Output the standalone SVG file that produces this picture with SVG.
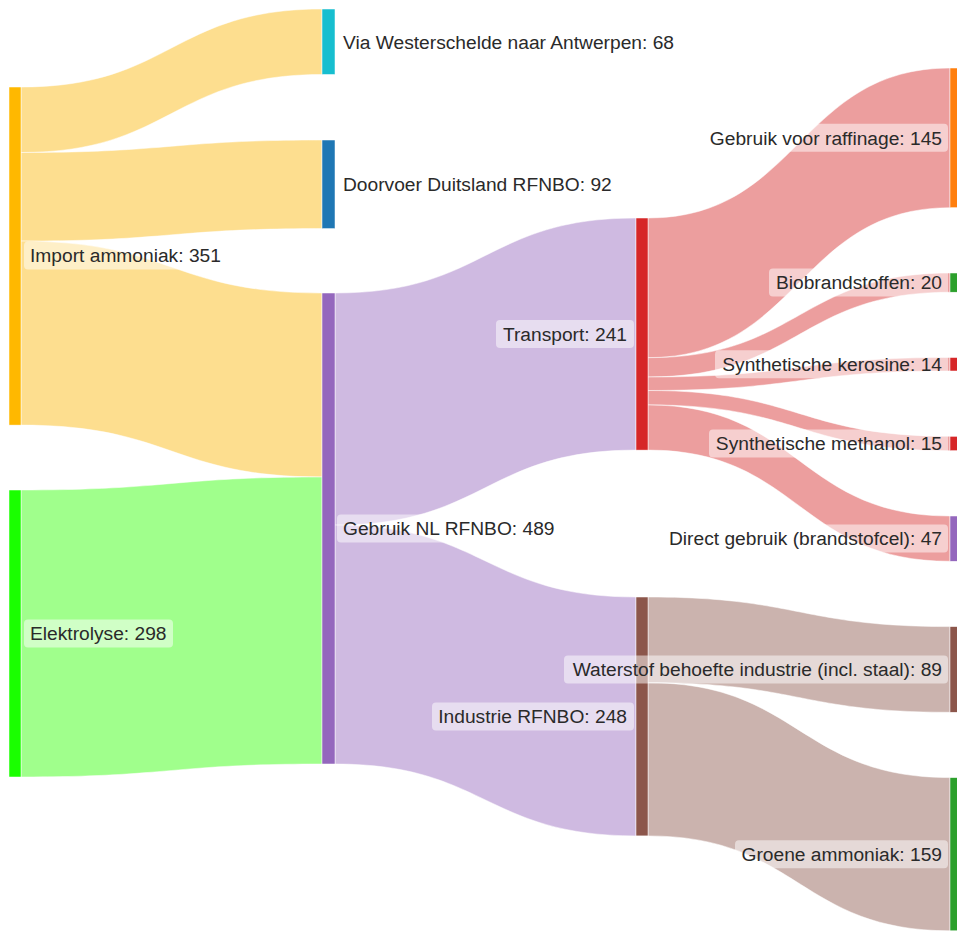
<svg xmlns="http://www.w3.org/2000/svg" width="957" height="931" viewBox="0 0 957 931">
<style>
.lk{stroke:#ffffff;stroke-width:0.5;}
.nd{stroke:#ffffff;stroke-width:0.5;}
.bg{fill:#ffffff;fill-opacity:0.5;}
.lb{font-family:"Liberation Sans",Arial,sans-serif;font-size:19.2px;fill:#2a2a2a;}
.e{text-anchor:end;}
</style>
<rect x="0" y="0" width="957" height="931" fill="#ffffff"/>
<g id="links">
<path class="lk" fill="#FDDE8F" d="M21,87 C171.5,87 171.5,9 322,9 L322,74.5 C171.5,74.5 171.5,152.5 21,152.5 Z"/>
<path class="lk" fill="#FDDE8F" d="M21,152.5 C171.5,152.5 171.5,140 322,140 L322,228.6 C171.5,228.6 171.5,241.1 21,241.1 Z"/>
<path class="lk" fill="#FDDE8F" d="M21,241.1 C171.5,241.1 171.5,293 322,293 L322,477 C171.5,477 171.5,425.1 21,425.1 Z"/>
<path class="lk" fill="#A0FF8C" d="M21,490 C171.5,490 171.5,477 322,477 L322,764 C171.5,764 171.5,777 21,777 Z"/>
<path class="lk" fill="#CFBAE1" d="M335,293 C485.5,293 485.5,218 636,218 L636,450.1 C485.5,450.1 485.5,525.1 335,525.1 Z"/>
<path class="lk" fill="#CFBAE1" d="M335,525.1 C485.5,525.1 485.5,597 636,597 L636,835.9 C485.5,835.9 485.5,764 335,764 Z"/>
<path class="lk" fill="#EC9E9E" d="M648,218 C799,218 799,68 950,68 L950,207.7 C799,207.7 799,357.7 648,357.7 Z"/>
<path class="lk" fill="#EC9E9E" d="M648,357.7 C799,357.7 799,273 950,273 L950,292.2 C799,292.2 799,377 648,377 Z"/>
<path class="lk" fill="#EC9E9E" d="M648,377 C799,377 799,357.5 950,357.5 L950,371 C799,371 799,390.5 648,390.5 Z"/>
<path class="lk" fill="#EC9E9E" d="M648,390.5 C799,390.5 799,436.3 950,436.3 L950,450.7 C799,450.7 799,404.9 648,404.9 Z"/>
<path class="lk" fill="#EC9E9E" d="M648,404.9 C799,404.9 799,516 950,516 L950,561.3 C799,561.3 799,450.1 648,450.1 Z"/>
<path class="lk" fill="#CBB3AE" d="M648,597 C799,597 799,626.6 950,626.6 L950,712.3 C799,712.3 799,682.7 648,682.7 Z"/>
<path class="lk" fill="#CBB3AE" d="M648,682.7 C799,682.7 799,777.6 950,777.6 L950,930.8 C799,930.8 799,835.9 648,835.9 Z"/>
</g>
<g id="node-import">
<rect class="nd" x="9" y="87" width="12" height="338.1" fill="#FFB800"/>
<rect class="bg" x="24" y="241.5" width="204" height="28" rx="4"/>
<text class="lb" x="30" y="255.5" dy="0.35em">Import ammoniak: 351</text>
</g>
<g id="node-elektrolyse">
<rect class="nd" x="9" y="490" width="12" height="287" fill="#1AFF00"/>
<rect class="bg" x="24" y="619.5" width="149" height="28" rx="4"/>
<text class="lb" x="30" y="633.5" dy="0.35em">Elektrolyse: 298</text>
</g>
<g id="node-via">
<rect class="nd" x="322" y="9" width="13" height="65.5" fill="#17BECF"/>
<text class="lb" x="343" y="41.8" dy="0.35em">Via Westerschelde naar Antwerpen: 68</text>
</g>
<g id="node-doorvoer">
<rect class="nd" x="322" y="140" width="13" height="88.6" fill="#1F77B4"/>
<text class="lb" x="343" y="184.3" dy="0.35em">Doorvoer Duitsland RFNBO: 92</text>
</g>
<g id="node-gebruik">
<rect class="nd" x="322" y="293" width="13" height="471" fill="#9467BD"/>
<rect class="bg" x="337" y="514.5" width="225" height="28" rx="4"/>
<text class="lb" x="343" y="528.5" dy="0.35em">Gebruik NL RFNBO: 489</text>
</g>
<g id="node-transport">
<rect class="nd" x="636" y="218" width="12" height="232.1" fill="#D62728"/>
<rect class="bg" x="496" y="320" width="138" height="28" rx="4"/>
<text class="lb e" x="627" y="334" dy="0.35em">Transport: 241</text>
</g>
<g id="node-industrie">
<rect class="nd" x="636" y="597" width="12" height="238.9" fill="#8C564B"/>
<rect class="bg" x="432" y="702.5" width="202" height="28" rx="4"/>
<text class="lb e" x="627" y="716.5" dy="0.35em">Industrie RFNBO: 248</text>
</g>
<g id="node-raffinage">
<rect class="nd" x="950" y="68" width="12" height="139.7" fill="#FF7F0E"/>
<rect class="bg" x="703" y="123.8" width="245" height="28" rx="4"/>
<text class="lb e" x="942" y="137.8" dy="0.35em">Gebruik voor raffinage: 145</text>
</g>
<g id="node-bio">
<rect class="nd" x="950" y="273" width="12" height="19.2" fill="#2CA02C"/>
<rect class="bg" x="769" y="268.6" width="179" height="28" rx="4"/>
<text class="lb e" x="942" y="282.6" dy="0.35em">Biobrandstoffen: 20</text>
</g>
<g id="node-kerosine">
<rect class="nd" x="950" y="357.5" width="12" height="13.5" fill="#D62728"/>
<rect class="bg" x="715" y="350.2" width="233" height="28" rx="4"/>
<text class="lb e" x="942" y="364.2" dy="0.35em">Synthetische kerosine: 14</text>
</g>
<g id="node-methanol">
<rect class="nd" x="950" y="436.3" width="12" height="14.4" fill="#D62728"/>
<rect class="bg" x="709" y="429.5" width="239" height="28" rx="4"/>
<text class="lb e" x="942" y="443.5" dy="0.35em">Synthetische methanol: 15</text>
</g>
<g id="node-direct">
<rect class="nd" x="950" y="516" width="12" height="45.3" fill="#9467BD"/>
<rect class="bg" x="662" y="524.6" width="286" height="28" rx="4"/>
<text class="lb e" x="942" y="538.6" dy="0.35em">Direct gebruik (brandstofcel): 47</text>
</g>
<g id="node-waterstof">
<rect class="nd" x="950" y="626.6" width="12" height="85.7" fill="#8C564B"/>
<rect class="bg" x="564" y="655.5" width="384" height="28" rx="4"/>
<text class="lb e" x="942" y="669.5" dy="0.35em">Waterstof behoefte industrie (incl. staal): 89</text>
</g>
<g id="node-groene">
<rect class="nd" x="950" y="777.6" width="12" height="153.2" fill="#2CA02C"/>
<rect class="bg" x="735" y="840.2" width="213" height="28" rx="4"/>
<text class="lb e" x="942" y="854.2" dy="0.35em">Groene ammoniak: 159</text>
</g>
</svg>
